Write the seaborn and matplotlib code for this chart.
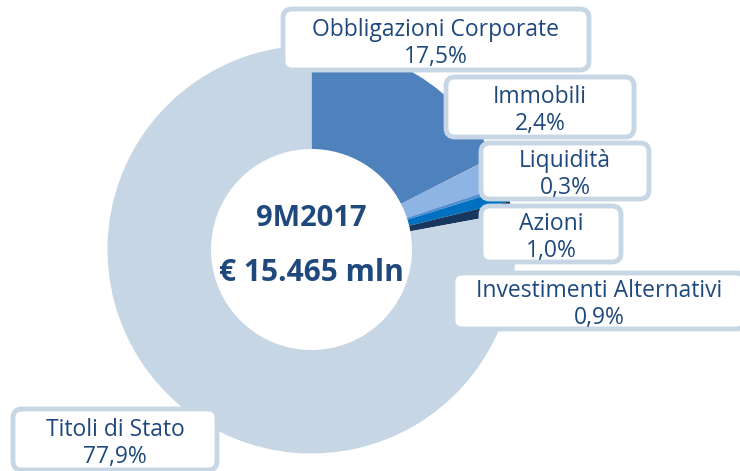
import matplotlib
matplotlib.use("Agg")
import matplotlib.pyplot as plt
import seaborn as sns
from matplotlib.patches import FancyBboxPatch

# ── Data ──────────────────────────────────────────────────────
categories = ["Obbligazioni Corporate", "Immobili", "Liquidità", "Azioni",
              "Investimenti Alternativi", "Titoli di Stato"]
shares     = [17.5, 2.4, 0.3, 1.0, 0.9, 77.9]
colors     = ["#4F81BD", "#8EB4E3", "#558ED5", "#0070C0", "#17375E", "#C6D6E5"]
center_title = "9M2017"
center_value = "€ 15.465 mln"

# label boxes (x0, y0, x1, y1) in pixel units, top-left origin
boxes = [
    (283, 9, 589, 70),
    (446, 77, 634, 137),
    (481, 143, 649, 199),
    (481, 206, 621, 262),
    (453, 273, 745, 329),
    (13, 409, 217, 470),
]

W, H = 740, 471
TEXT_C = "#1F497D"
EDGE_C = "#C6D6E5"

sns.set_theme(style="white")
plt.rcParams["font.family"] = ["Open Sans", "DejaVu Sans"]

fig = plt.figure(figsize=(W / 100, H / 100), dpi=100)
ax = fig.add_axes([0, 0, 1, 1])

# ── Donut ─────────────────────────────────────────────────────
cx, cy, r_out, r_in = 311.5, H - 249.5, 204, 100.5
ax.pie(shares, colors=colors, startangle=90, counterclock=False,
       center=(cx, cy), radius=r_out, frame=True,
       wedgeprops=dict(width=r_out - r_in, linewidth=0))
ax.set_xlim(0, W)
ax.set_ylim(0, H)
ax.set_aspect("equal")
ax.axis("off")

# centre text
ax.text(cx, H - 219, center_title, ha="center", va="center",
        fontsize=21, fontweight="bold", color=TEXT_C)
ax.text(cx, H - 273, center_value, ha="center", va="center",
        fontsize=21.5, fontweight="bold", color=TEXT_C)

# ── Label boxes ───────────────────────────────────────────────
for name, val, (x0, y0, x1, y1) in zip(categories, shares, boxes):
    patch = FancyBboxPatch((x0, H - y1), x1 - x0, y1 - y0,
                           boxstyle="round,pad=0,rounding_size=9",
                           fc="white", ec=EDGE_C, lw=3.5, zorder=5,
                           clip_on=False)
    ax.add_patch(patch)
    xc = (x0 + x1) / 2
    ym = H - (y0 + y1) / 2
    pct = f"{val:.1f}%".replace(".", ",")
    ax.text(xc, ym + 10, name, ha="center", va="center",
            fontsize=16.5, color=TEXT_C, zorder=6)
    ax.text(xc, ym - 17, pct, ha="center", va="center",
            fontsize=16.5, color=TEXT_C, zorder=6)

fig.savefig("out.png", dpi=100)
